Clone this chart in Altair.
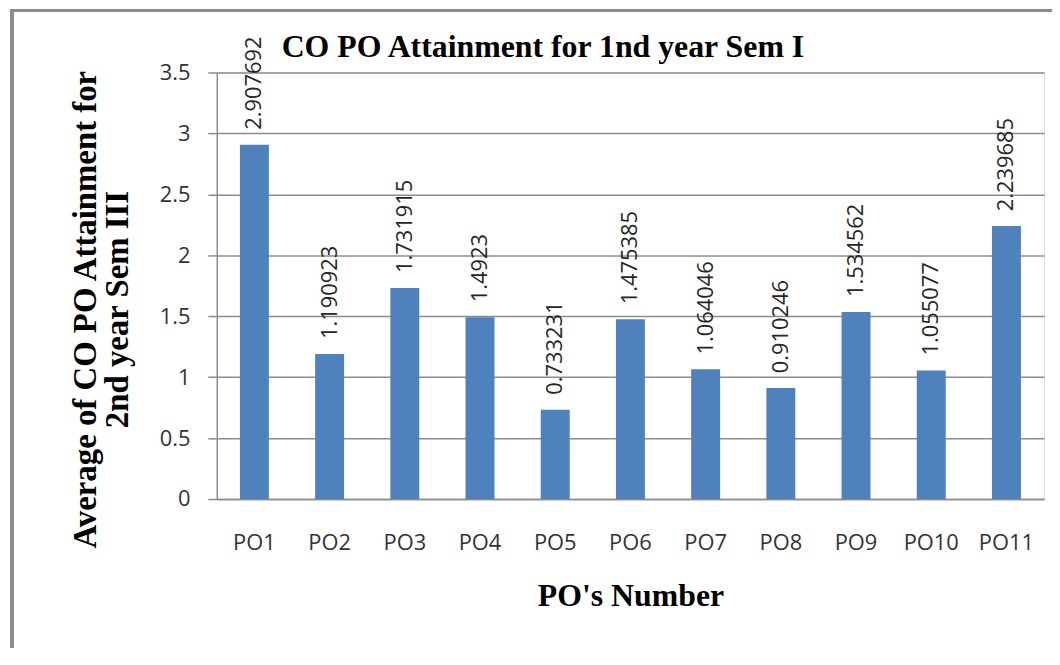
import altair as alt
import pandas as pd

categories = ["PO1", "PO2", "PO3", "PO4", "PO5", "PO6", "PO7", "PO8", "PO9", "PO10", "PO11"]
values = [2.907692, 1.190923, 1.731915, 1.4923, 0.733231, 1.475385,
          1.064046, 0.910246, 1.534562, 1.055077, 2.239685]
y_ticks = [0, 0.5, 1, 1.5, 2, 2.5, 3, 3.5]
chart_title = "CO PO Attainment for 1nd year Sem I"

df = pd.DataFrame({"po": categories, "value": values})

SERIF = "Liberation Serif"
SANS = "Open Sans"
GRID = "#8c8c8c"

x_enc = alt.X(
    "po:N", sort=categories,
    scale=alt.Scale(paddingInner=0.615, paddingOuter=0.3075),
    axis=alt.Axis(
        title="PO's Number", labelAngle=0, ticks=False, labelPadding=34,
        labelFont=SANS, labelFontSize=22, labelColor="#333333",
        labelBaseline="top",
        titleFont=SERIF, titleFontSize=32, titleFontWeight="bold", titleColor="#000000",
        titleBaseline="alphabetic", titleY=107,
        domainColor=GRID, domainWidth=1.5, grid=False,
    ),
)
y_enc = alt.Y(
    "value:Q",
    scale=alt.Scale(domain=[0, 3.5], nice=False),
    axis=alt.Axis(
        title=["Average of CO PO Attainment for", "2nd year Sem III"],
        values=y_ticks, format=".1~f",
        labelFont=SANS, labelFontSize=22, labelColor="#333333", labelPadding=18,
        tickSize=9, tickColor=GRID, tickWidth=1.5,
        domainColor=GRID, domainWidth=1.5,
        grid=True, gridColor=GRID, gridWidth=1.5,
        titleFont=SERIF, titleFontSize=33, titleFontWeight="bold", titleColor="#000000",
        titleAngle=270, titleAlign="center", titleBaseline="alphabetic",
        titleX=-122, titleY=238, titleLineHeight=32,
    ),
)

bars = alt.Chart(df).mark_bar(color="#4F81BD").encode(x=x_enc, y=y_enc)

labels = alt.Chart(df).transform_calculate(
    label="'' + datum.value"
).mark_text(
    angle=270, align="left", baseline="middle", dx=15,
    font=SANS, fontSize=22, color="#262626",
).encode(
    x=alt.X("po:N", sort=categories),
    y=alt.Y("value:Q"),
    text="label:N",
)

title_df = pd.DataFrame({"t": [chart_title]})
title_mark = alt.Chart(title_df).mark_text(
    font=SERIF, fontSize=32, fontWeight="bold", color="#000000",
    align="center", baseline="alphabetic",
).encode(
    x=alt.value(328), y=alt.value(-16), text="t:N",
)

frame = alt.Chart(df).mark_rect(
    fill=None, stroke="#8c8c8c", strokeWidth=2.5
).encode(
    x=alt.value(-206), x2=alt.value(1000),
    y=alt.value(-62), y2=alt.value(800),
)

chart = alt.layer(frame, bars, labels, title_mark).properties(
    width=832, height=429,
    autosize=alt.AutoSizeParams(type="none"),
    padding={"left": 210, "top": 63, "right": 8, "bottom": 148},
).configure_view(stroke=None).configure(background="white")

chart.save("out.html", embed_options={"renderer": "svg", "actions": False})
